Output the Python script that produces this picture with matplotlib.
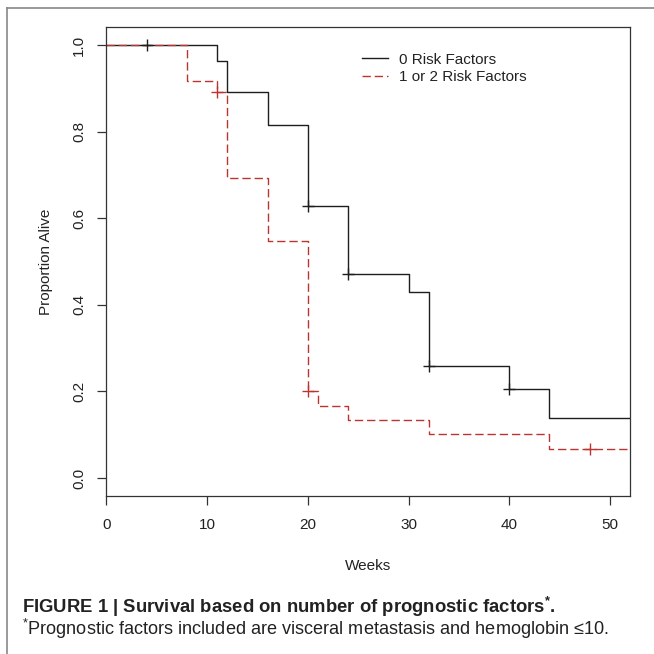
import numpy as np
import matplotlib.pyplot as plt
from matplotlib.lines import Line2D

plt.rcParams['font.family'] = ['Liberation Sans', 'DejaVu Sans']
plt.rcParams['mathtext.fontset'] = 'custom'
plt.rcParams['mathtext.rm'] = 'Liberation Sans'
plt.rcParams['mathtext.bf'] = 'Liberation Sans:bold'

# Kaplan-Meier steps, 0 risk factors
weeks_0 = [0, 11, 12, 16, 20, 24, 30, 32, 40, 44]
alive_0 = [1.0, 0.964, 0.891, 0.815, 0.629, 0.471, 0.429, 0.259, 0.206, 0.138]
censor_0 = [4, 20, 24, 32, 40]

# 1 or 2 risk factors
weeks_12 = [0, 8, 11, 12, 16, 20, 21, 24, 32, 44]
alive_12 = [1.0, 0.918, 0.891, 0.693, 0.547, 0.202, 0.167, 0.134, 0.101, 0.066]
censor_12 = [11, 20, 48]

end_week = 52
labels = ["0 Risk Factors", "1 or 2 Risk Factors"]
x_ticks = [0, 10, 20, 30, 40, 50]
y_ticks = [0.0, 0.2, 0.4, 0.6, 0.8, 1.0]


def surv_at(t, weeks, alive):
    i = np.searchsorted(weeks, t, side='right') - 1
    return np.array(alive)[i]


fig = plt.figure(figsize=(6.54, 6.54), dpi=100)
ax = fig.add_axes([0.1628, 0.2416, 0.9633 - 0.1628, 0.9587 - 0.2416])

black = '#1e1e1e'
red = '#bc3430'

ax.step(weeks_0 + [end_week], alive_0 + [alive_0[-1]], where='post',
        color=black, lw=1.0, label=labels[0])
ax.step(weeks_12 + [end_week], alive_12 + [alive_12[-1]], where='post',
        color=red, lw=1.0, dashes=(6, 2.8), label=labels[1])
ax.plot(censor_0, surv_at(censor_0, weeks_0, alive_0), ls='none', marker='+',
        ms=9, mew=1.0, color=black)
ax.plot(censor_12, surv_at(censor_12, weeks_12, alive_12), ls='none', marker='+',
        ms=9, mew=1.0, color=red)

ax.set_xlim(0, end_week)
ax.set_ylim(-0.0416, 1.0416)
ax.set_xticks(x_ticks)
ax.set_yticks(y_ticks)
ax.set_yticklabels(['%.1f' % v for v in y_ticks], rotation=90, va='center')
ax.tick_params(length=6.5, width=0.9, color='#333333', labelsize=11,
               labelcolor='#222222')
ax.tick_params(axis='x', pad=9)
ax.tick_params(axis='y', pad=8)
for s in ax.spines.values():
    s.set_color('#333333')
    s.set_linewidth(0.9)

ax.set_xlabel('Weeks', fontsize=11, color='#222222', labelpad=20)
ax.set_ylabel('Proportion Alive', fontsize=11, color='#222222', labelpad=14)

ax.legend(loc='upper left', bbox_to_anchor=(0.488, 0.945), frameon=False,
          fontsize=11, handlelength=1.7, handletextpad=0.75, labelspacing=0.2,
          borderaxespad=0, borderpad=0)
for t in ax.get_legend().get_texts():
    t.set_color('#222222')

# outer frame of the figure panel
fig.add_artist(Line2D([7 / 654, 1], [1 - 8 / 654, 1 - 8 / 654], color='#888888', lw=1.2))
fig.add_artist(Line2D([7 / 654, 7 / 654], [0, 1 - 8 / 654], color='#888888', lw=1.2))

fig.text(22 / 654, 1 - 613 / 654,
         r'FIGURE 1 | Survival based on number of prognostic factors$^{\mathbf{*}}$.',
         fontsize=13.3, fontweight='bold', color='#222222', va='baseline')
fig.text(22 / 654, 1 - 635 / 654,
         r'$^{*}$Prognostic factors included are visceral metastasis and hemoglobin ≤10.',
         fontsize=13.1, color='#222222', va='baseline')

fig.savefig('out.png', dpi=100)
